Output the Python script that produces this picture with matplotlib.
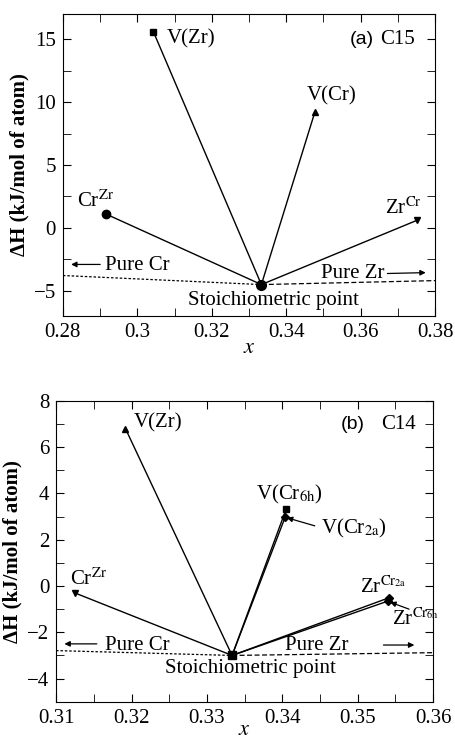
import matplotlib
matplotlib.use("Agg")
import matplotlib.pyplot as plt
from matplotlib.ticker import MultipleLocator

plt.rcParams['font.family'] = ['Liberation Serif', 'DejaVu Serif']
plt.rcParams['mathtext.fontset'] = 'stix'
plt.rcParams['font.size'] = 15

# (a) C15 : defect energies
c15_stoich = (1 / 3, -4.5)
c15_names = ['V(Zr)', 'V(Cr)', 'CrZr', 'ZrCr']
c15_x = [0.3043, 0.3477, 0.2916, 0.3751]
c15_y = [15.6, 9.2, 1.1, 0.6]

# (b) C14
c14_stoich = (1 / 3, -3.0)
c14_names = ['V(Zr)', 'V(Cr6h)', 'V(Cr2a)', 'CrZr', 'ZrCr2a', 'ZrCr6h']
c14_x = [0.3192, 0.3405, 0.3404, 0.3125, 0.3542, 0.3540]
c14_y = [6.8, 3.32, 3.0, -0.3, -0.5, -0.65]

c15_markers = ['s', '^', 'o', 'v']
c14_markers = ['^', 's', 'D', 'v', 'D', 'D']


def hull(ax, stoich, xlim):
    # formation-energy hull from pure Cr (x=0) and pure Zr (x=1)
    xs, ys = stoich
    ax.plot([xlim[0], xs], [ys / xs * xlim[0], ys], color='k', lw=0.9,
            dashes=(2, 1.5))
    ax.plot([xs, xlim[1]], [ys, ys + (xlim[1] - xs) * (-ys) / (1 - xs)],
            color='k', lw=0.9, dashes=(4, 2))


def style(ax, xlim, ylim, xmaj, xmin, ymaj, ymin, xpad):
    ax.set_xlim(xlim)
    ax.set_ylim(ylim)
    ax.xaxis.set_major_locator(MultipleLocator(xmaj))
    ax.xaxis.set_minor_locator(MultipleLocator(xmin))
    ax.yaxis.set_major_locator(MultipleLocator(ymaj))
    ax.yaxis.set_minor_locator(MultipleLocator(ymin))
    ax.tick_params(which='both', direction='in', top=True, right=True,
                   labelsize=15, pad=5)
    ax.tick_params(which='major', length=6)
    ax.tick_params(which='minor', length=6)
    ax.set_xlabel('$x$', fontsize=16, labelpad=xpad)
    ax.set_ylabel('ΔH (kJ/mol of atom)', fontweight='bold', fontsize=15,
                  labelpad=3)


def arrow(ax, xy, xytext):
    ax.annotate('', xy=xy, xytext=xytext,
                arrowprops=dict(arrowstyle='-|>', color='k', lw=0.9,
                                mutation_scale=8, shrinkA=0, shrinkB=0))


fig = plt.figure(figsize=(4.56, 7.41), dpi=100)
ax1 = fig.add_axes([0.138, 0.5735, 0.816, 0.4076])
ax2 = fig.add_axes([0.123, 0.053, 0.827, 0.406])

# panel (a)
xlim1 = (0.28, 0.38)
hull(ax1, c15_stoich, xlim1)
for x, y, m in zip(c15_x, c15_y, c15_markers):
    ax1.plot([c15_stoich[0], x], [c15_stoich[1], y], color='k', lw=1.0)
    ax1.plot(x, y, marker=m, color='k', ms=6 if m == 'o' else 5)
ax1.plot(*c15_stoich, marker='o', color='k', ms=7)
style(ax1, xlim1, (-7, 17), 0.02, 0.01, 5, 2.5, -2)
ax1.xaxis.set_major_formatter(plt.FuncFormatter(lambda v, p: f'{v:g}'))

ax1.text(0.308, 15, 'V(Zr)', va='center', ha='left')
ax1.text(0.3523, 10.5, 'V(Cr)', va='center', ha='center')
ax1.text(0.2838, 2.1, r'Cr$^{\mathrm{Zr}}$', va='center', ha='left')
ax1.text(0.3765, 1.6, r'Zr$^{\mathrm{Cr}}$', va='center', ha='right')
ax1.text(0.3746, 15, 'C15', va='center', ha='right')
ax1.text(0.3572, 15, '(a)', va='center', ha='left', family='Liberation Sans',
         fontsize=14)
ax1.text(0.2913, -2.95, 'Pure Cr', va='center', ha='left')
arrow(ax1, (0.2822, -2.9), (0.2900, -2.9))
ax1.text(0.3665, -3.65, 'Pure Zr', va='center', ha='right')
arrow(ax1, (0.3775, -3.55), (0.3672, -3.62))
ax1.text(0.3367, -5.8, 'Stoichiometric point', va='center', ha='center')

# panel (b)
xlim2 = (0.31, 0.36)
hull(ax2, c14_stoich, xlim2)
for x, y, m in zip(c14_x, c14_y, c14_markers):
    ax2.plot([c14_stoich[0], x], [c14_stoich[1], y], color='k', lw=1.0)
    ax2.plot(x, y, marker=m, color='k', ms=5 if m != 'D' else 4)
ax2.plot(*c14_stoich, marker='s', color='k', ms=6)
style(ax2, xlim2, (-5, 8), 0.01, 0.005, 2, 1, -5)
ax2.xaxis.set_major_formatter(plt.FuncFormatter(lambda v, p: f'{v:.2f}'))

ax2.text(0.3203, 7.05, 'V(Zr)', va='center', ha='left')
ax2.text(0.3531, 7.0, 'C14', va='center', ha='left')
ax2.text(0.3477, 7.0, '(b)', va='center', ha='left', family='Liberation Sans',
         fontsize=14)
ax2.text(0.3409, 3.95, r'V(Cr$_{\mathrm{6h}}$)', va='center', ha='center')
ax2.text(0.3451, 2.5, r'V(Cr$_{\mathrm{2a}}$)', va='center', ha='left')
arrow(ax2, (0.3406, 2.95), (0.3443, 2.6))
ax2.text(0.3118, 0.3, r'Cr$^{\mathrm{Zr}}$', va='center', ha='left')
ax2.text(0.3503, -0.05, r'Zr$^{\mathrm{Cr}_{\mathrm{2a}}}$', va='center',
         ha='left')
ax2.text(0.3545, -1.45, r'Zr$^{\mathrm{Cr}_{\mathrm{6h}}}$', va='center',
         ha='left')
arrow(ax2, (0.3543, -0.7), (0.3568, -1.0))
ax2.text(0.3165, -2.55, 'Pure Cr', va='center', ha='left')
arrow(ax2, (0.3111, -2.5), (0.3154, -2.5))
ax2.text(0.3445, -2.55, 'Pure Zr', va='center', ha='center')
arrow(ax2, (0.3575, -2.55), (0.3534, -2.55))
ax2.text(0.3358, -3.55, 'Stoichiometric point', va='center', ha='center')

fig.savefig('out.png', dpi=100)
